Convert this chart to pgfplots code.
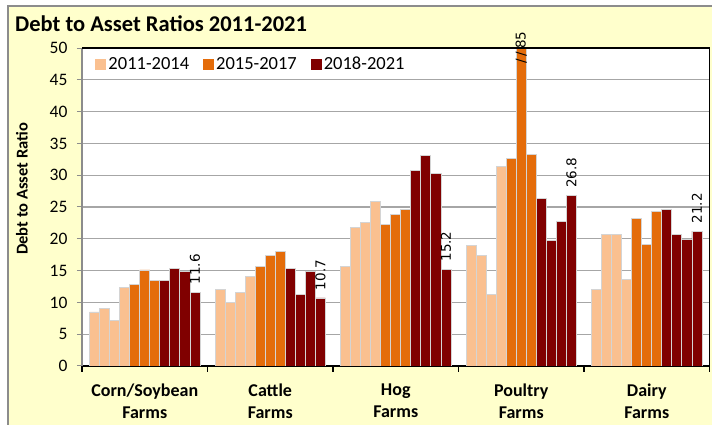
\documentclass[border=0pt]{standalone}
\usepackage{pgfplots}
\pgfplotsset{compat=1.18}
\usepackage{fontspec}
\setmainfont{Carlito}
\newfontfamily\dejavu{DejaVu Sans}

\definecolor{peach}{HTML}{FAC090}
\definecolor{orng}{HTML}{E46C0A}
\definecolor{maroon}{HTML}{800000}
\definecolor{bgyellow}{HTML}{FFFFCC}
\definecolor{gridgray}{HTML}{A6A6A6}
\definecolor{edgegray}{HTML}{D4D4D4}
\definecolor{axisgray}{HTML}{8C8C8C}

\begin{document}
\begin{tikzpicture}
\useasboundingbox (0pt,0pt) rectangle (712pt,425pt);
\fill[bgyellow] (8pt,0pt) rectangle (712pt,419pt);
\draw[axisgray, line width=1.5pt] (8pt,0pt) -- (8pt,419pt) -- (712pt,419pt);
\node[anchor=base west, font=\bfseries\fontsize{22.5}{26}\selectfont, inner sep=0pt]
  at (15pt,393pt) {Debt to Asset Ratios 2011-2021};
\node[rotate=90, font=\bfseries\fontsize{16.5}{19}\selectfont]
  at (22pt,236pt) {Debt to Asset Ratio};

\begin{axis}[
  at={(82pt,59pt)}, anchor=south west,
  scale only axis, width=627.5pt, height=318pt,
  xmin=0, xmax=62.5, ymin=0, ymax=50,
  axis background/.style={fill=white},
  clip mode=individual,
  axis x line*=bottom, axis y line*=left,
  x axis line style={black, line width=1.5pt},
  y axis line style={axisgray, line width=1.3pt},
  ytick={0,5,...,50},
  ymajorgrids,
  grid style={gridgray, line width=1.3pt},
  ytick style={axisgray, line width=1pt},
  tick align=outside,
  major tick length=5pt,
  minor tick length=6pt,
  xtick={6.25,18.75,31.25,43.75,56.25},
  xticklabels={Corn/Soybean\\Farms, Cattle\\Farms, Hog\\Farms, Poultry\\Farms, Dairy\\Farms},
  major x tick style={draw=none},
  minor xtick={0,12.5,25,37.5,50,62.5},
  minor x tick style={draw=black, line width=1.8pt},
  xticklabel style={font=\bfseries\fontsize{18}{22.5}\selectfont, align=center, yshift=-9pt},
  yticklabel style={font=\fontsize{17.5}{20}\selectfont, xshift=-6pt},
  /pgf/number format/assume math mode=true,
  ybar, bar width=1, bar shift=0pt,
  legend columns=3,
  legend style={at={(0.018,0.985)}, anchor=north west, draw=none, fill=white,
    font=\fontsize{18.5}{21}\selectfont, inner sep=2pt,
    /tikz/every even column/.append style={column sep=12pt}},
  legend image code/.code={\fill[#1, draw=none] (0pt,-5.5pt) rectangle (11pt,5.5pt);},
  every axis plot/.append style={draw=edgegray, line width=0.8pt},
]
\addplot[fill=peach] coordinates {
  (1.25,8.5) (2.25,9.0) (3.25,7.2) (4.25,12.4)
  (13.75,12.0) (14.75,10.0) (15.75,11.6) (16.75,14.1)
  (26.25,15.7) (27.25,21.8) (28.25,22.6) (29.25,25.9)
  (38.75,18.9) (39.75,17.4) (40.75,11.2) (41.75,31.4)
  (51.25,12.1) (52.25,20.7) (53.25,20.7) (54.25,13.6)
};
\addlegendentry{2011-2014}
\addplot[fill=orng] coordinates {
  (5.25,12.8) (6.25,15.1) (7.25,13.4)
  (17.75,15.6) (18.75,17.4) (19.75,18.0)
  (30.25,22.3) (31.25,23.8) (32.25,24.6)
  (42.75,32.6) (43.75,85) (44.75,33.2)
  (55.25,23.2) (56.25,19.1) (57.25,24.3)
};
\addlegendentry{2015-2017}
\addplot[fill=maroon] coordinates {
  (8.25,13.4) (9.25,15.4) (10.25,14.8) (11.25,11.6)
  (20.75,15.3) (21.75,11.3) (22.75,14.8) (23.75,10.7)
  (33.25,30.7) (34.25,33.1) (35.25,30.3) (36.25,15.2)
  (45.75,26.4) (46.75,19.8) (47.75,22.7) (48.75,26.8)
  (58.25,24.6) (59.25,20.7) (60.25,19.9) (61.25,21.2)
};
\addlegendentry{2018-2021}

\draw[black, line width=1.3pt] (rel axis cs:0,1) -- (rel axis cs:1,1) -- (rel axis cs:1,0);

\begin{scope}[every node/.style={rotate=90, anchor=west, inner sep=0pt,
    font=\dejavu\fontsize{13.5}{15}\selectfont}]
\node at (axis cs:11.25,12.8) {11.6};
\node at (axis cs:23.75,11.9) {10.7};
\node at (axis cs:36.25,16.4) {15.2};
\node at (axis cs:48.75,28.0) {26.8};
\node at (axis cs:61.25,22.4) {21.2};
\node at (axis cs:43.75,47.6) {/\hspace{2pt}/\hspace{3pt}85};
\end{scope}
\end{axis}
\end{tikzpicture}
\end{document}
